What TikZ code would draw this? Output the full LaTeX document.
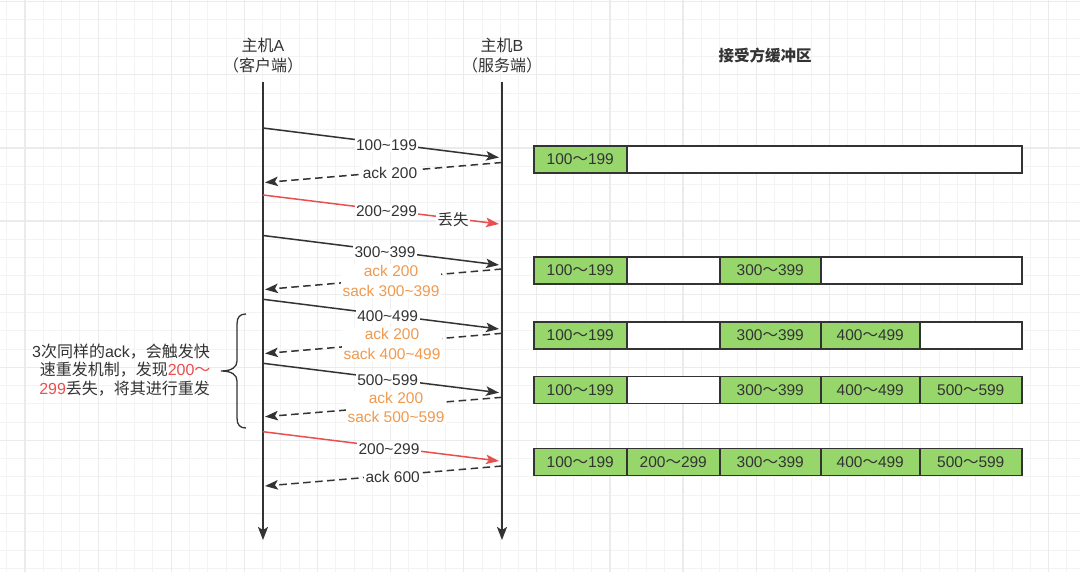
\documentclass[tikz,border=0pt]{standalone}
\usepackage{fontspec}
\setmainfont{Liberation Sans}
\newfontfamily\cjk{Noto Sans CJK SC}
\usetikzlibrary{arrows.meta}
\definecolor{ink}{HTML}{333333}
\definecolor{lred}{HTML}{EA4F4F}
\definecolor{lorange}{HTML}{F0994F}
\definecolor{lgreen}{HTML}{97D66B}
\definecolor{gminor}{HTML}{F3F3F3}
\definecolor{gmajor}{HTML}{EBEBEB}
\newcommand\fwt{{\cjk ～}}
\newcommand\tl{\textasciitilde}
\begin{document}
\begin{tikzpicture}[x=1pt,y=-1pt,
  every node/.style={text=ink, font=\fontsize{15.5}{19.5}\selectfont},
  life/.style={draw=ink, line width=1.8pt, -{Stealth[length=13pt,width=10pt,inset=3pt]}},
  msg/.style={draw=ink, line width=1.5pt, -{Stealth[length=13pt,width=9.5pt,inset=3pt]}},
  redmsg/.style={msg, draw=lred, -{Stealth[length=13pt,width=9.5pt,inset=3pt,lred]}},
  ackmsg/.style={msg, dash pattern=on 7.5pt off 4.5pt},
  lbl/.style={fill=white, inner sep=1.5pt},
  olbl/.style={lbl, text=lorange, align=center},
  cellbox/.style={draw=ink, line width=1.5pt, minimum height=27pt, inner sep=0pt, anchor=west},
  gcell/.style={cellbox, fill=lgreen},
  wcell/.style={cellbox, fill=white},
  cjktext/.style={font=\cjk\fontsize{16}{19}\selectfont},
]
\useasboundingbox (0,0) rectangle (1080,572);
\fill[white] (0,0) rectangle (1080,572);
% grid
\foreach \i in {0,...,59} {\draw[gminor, line width=1pt] ({6.72+18.28*\i},0) -- ({6.72+18.28*\i},572);}
\foreach \i in {0,...,31} {\draw[gminor, line width=1pt] (0,{1.7+18.28*\i}) -- (1080,{1.7+18.28*\i});}
\foreach \i in {0,...,14} {\draw[gmajor, line width=1.2pt] ({25+73.12*\i},0) -- ({25+73.12*\i},572);}
\foreach \i in {0,...,7} {\draw[gmajor, line width=1.2pt] (0,{1.7+73.12*\i}) -- (1080,{1.7+73.12*\i});}

% titles
\node (tA) at (263,45) {{\cjk\fontsize{16}{19}\selectfont 主机}\fontsize{16}{19}\selectfont A};
\node[cjktext] (tA2) at (263,65) {（客户端）};
\node (tB) at (502,45) {{\cjk\fontsize{16}{19}\selectfont 主机}\fontsize{16}{19}\selectfont B};
\node[cjktext] (tB2) at (502,65) {（服务端）};
\node[font=\cjk\bfseries\fontsize{15.5}{19}\selectfont] (tBuf) at (765,55.5) {接受方缓冲区};

% lifelines
\coordinate (Atop) at (263,82);
\coordinate (Abot) at (263,540);
\coordinate (Btop) at (502,82);
\coordinate (Bbot) at (502,540);
\draw[life] (Atop) -- (Abot);
\draw[life] (Btop) -- (Bbot);

% message end points
\coordinate (a1) at (263,128);   \coordinate (b1) at (499,157.5);
\coordinate (b2) at (502,162.5); \coordinate (a2) at (265,182.5);
\coordinate (a3) at (263,195);   \coordinate (b3) at (499,224);
\coordinate (a4) at (263,235.5); \coordinate (b4) at (499,265);
\coordinate (b5) at (502,269);   \coordinate (a5) at (265,289.5);
\coordinate (a6) at (263,299.3); \coordinate (b6) at (499,329);
\coordinate (b7) at (502,333.3); \coordinate (a7) at (265,353.5);
\coordinate (a8) at (263,363.3); \coordinate (b8) at (499,392.7);
\coordinate (b9) at (502,397.3); \coordinate (a9) at (265,416.7);
\coordinate (a10) at (263,431.7); \coordinate (b10) at (499,461);
\coordinate (b11) at (502,466);  \coordinate (a11) at (265,486);

% messages
\draw[msg] (a1) -- (b1);
\node[lbl] (l1) at (386.5,145) {100\tl199};
\draw[ackmsg] (b2) -- (a2);
\node[lbl] (l2) at (390,173) {ack 200};
\draw[redmsg] (a3) -- (b3);
\node[lbl] (l3) at (386.5,211.5) {200\tl299};
\node[lbl, font=\cjk\fontsize{15.5}{19}\selectfont] (l3b) at (453,219.5) {丢失};
\draw[msg] (a4) -- (b4);
\draw[ackmsg] (b5) -- (a5);
\node[olbl] (l5) at (391,281) {ack 200\\sack 300\tl399};
\node[lbl] (l4) at (385,252.3) {300\tl399};
\draw[msg] (a6) -- (b6);
\draw[ackmsg] (b7) -- (a7);
\node[olbl] (l7) at (392,344) {ack 200\\sack 400\tl499};
\node[lbl] (l6) at (387.7,316) {400\tl499};
\draw[msg] (a8) -- (b8);
\draw[ackmsg] (b9) -- (a9);
\node[olbl] (l9) at (396,407.5) {ack 200\\sack 500\tl599};
\node[lbl] (l8) at (387.7,380) {500\tl599};
\draw[redmsg] (a10) -- (b10);
\node[lbl] (l10) at (389,449) {200\tl299};
\draw[ackmsg] (b11) -- (a11);
\node[lbl] (l11) at (392.7,476.7) {ack 600};

% brace
\draw[ink, line width=1.3pt] (246,314) .. controls (240,314) and (237,317) .. (237,324)
  -- (237,361) .. controls (237,367) and (232,371) .. (221,371)
  .. controls (232,371) and (237,375) .. (237,381)
  -- (237,418) .. controls (237,425) and (240,428) .. (246,428);
\node[anchor=east, font=\fontsize{16}{19}\selectfont] (n1) at (213.5,351.7) {3{\cjk 次同样的}ack{\cjk ，会触发快}};
\node[anchor=east, font=\fontsize{16}{19}\selectfont] (n2) at (214,370) {{\cjk 速重发机制，发现}\textcolor{lred}{200{\cjk ～}}};
\node[anchor=east, font=\fontsize{16}{19}\selectfont] (n3) at (213.5,388.3) {\textcolor{lred}{299}{\cjk 丢失，将其进行重发}};

% buffers
% row 1
\node[gcell, minimum width=93pt] (r1c1) at (533,159.3) {100\fwt199};
\node[wcell, minimum width=395pt] (r1c2) at (626,159.3) {};
% row 2
\node[gcell, minimum width=93pt] (r2c1) at (533,270.5) {100\fwt199};
\node[wcell, minimum width=93pt] (r2c2) at (626,270.5) {};
\node[gcell, minimum width=101pt] (r2c3) at (719,270.5) {300\fwt399};
\node[wcell, minimum width=201pt] (r2c4) at (820,270.5) {};
% row 3
\node[gcell, minimum width=93pt] (r3c1) at (533,335.3) {100\fwt199};
\node[wcell, minimum width=93pt] (r3c2) at (626,335.3) {};
\node[gcell, minimum width=101pt] (r3c3) at (719,335.3) {300\fwt399};
\node[gcell, minimum width=99pt] (r3c4) at (820,335.3) {400\fwt499};
\node[wcell, minimum width=102pt] (r3c5) at (919,335.3) {};
% row 4
\node[gcell, minimum width=93pt] (r4c1) at (533,390.2) {100\fwt199};
\node[wcell, minimum width=93pt] (r4c2) at (626,390.2) {};
\node[gcell, minimum width=101pt] (r4c3) at (719,390.2) {300\fwt399};
\node[gcell, minimum width=99pt] (r4c4) at (820,390.2) {400\fwt499};
\node[gcell, minimum width=102pt] (r4c5) at (919,390.2) {500\fwt599};
% row 5
\node[gcell, minimum width=93pt] (r5c1) at (533,462.2) {100\fwt199};
\node[gcell, minimum width=93pt] (r5c2) at (626,462.2) {200\fwt299};
\node[gcell, minimum width=101pt] (r5c3) at (719,462.2) {300\fwt399};
\node[gcell, minimum width=99pt] (r5c4) at (820,462.2) {400\fwt499};
\node[gcell, minimum width=102pt] (r5c5) at (919,462.2) {500\fwt599};
\end{tikzpicture}
\end{document}
